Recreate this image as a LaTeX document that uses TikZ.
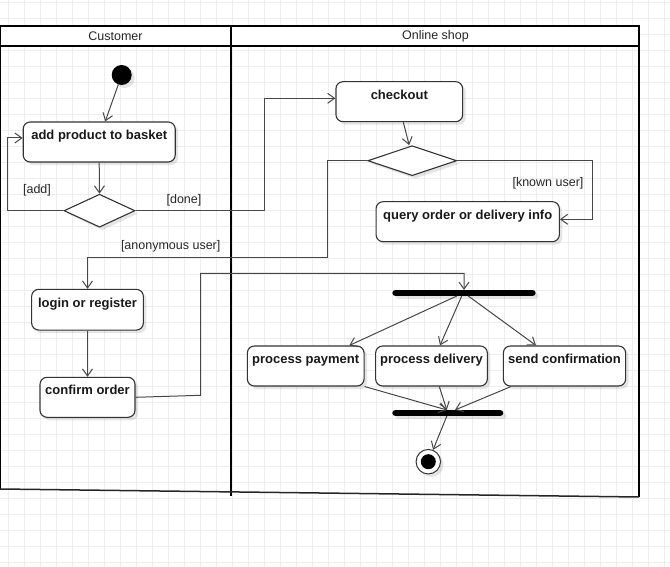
\documentclass[tikz,border=0pt]{standalone}
\usepackage{fontspec}
\setmainfont{Liberation Sans}
\usetikzlibrary{arrows.meta,shapes.geometric,shadows}
\definecolor{gridc}{HTML}{EEEEEE}
\definecolor{ink}{HTML}{333333}
\definecolor{wire}{HTML}{474747}
\begin{document}
\begin{tikzpicture}[x=1pt,y=-1pt,
  soft/.style={drop shadow={shadow xshift=3pt,shadow yshift=-3pt,fill=black,opacity=0.1}},
  action/.style={draw=ink,line width=1.1pt,rounded corners=7pt,fill=white,soft,
    font=\fontsize{13}{15}\selectfont\bfseries,text=black!90,
    minimum height=40pt,inner ysep=8pt,inner xsep=0pt,
    text height=9.5pt,text depth=14.5pt,align=center},
  decision/.style={diamond,draw=ink,line width=1.1pt,fill=white,soft,inner sep=0pt},
  syncbar/.style={rectangle,fill=black,rounded corners=2.8pt,inner sep=0pt,
    minimum height=5.7pt,soft},
  flow/.style={draw=wire,line width=1pt,-{Straight Barb[length=7pt,width=10pt]}},
  guard/.style={font=\fontsize{12.5}{14}\selectfont,text=black!85},
  lane/.style={line width=2.2pt,draw=black},
  lanetitle/.style={font=\fontsize{12.5}{14}\selectfont,text=black!85}]

\useasboundingbox (0,0) rectangle (670,567);

% background grid
\foreach \k in {0,...,41}
  \draw[gridc,line width=1pt] ({8.3+16*\k},0) -- ({8.3+16*\k},567);
\foreach \k in {0,...,35}
  \draw[gridc,line width=1pt] (0,{2.3+16*\k}) -- (670,{2.3+16*\k});

% swimlanes
\draw[lane,fill=white] (0,26) rectangle (231,46);
\draw[lane,fill=white] (231,26) rectangle (639,46);
\draw[lane] (0,46) -- (0,489);
\draw[lane] (231,46) -- (231,496);
\draw[lane] (639,46) -- (639,497);
\draw[line width=1.5pt,black!85] (0,489) -- (639,497);
\node[lanetitle] (laneA) at (115.5,36) {Customer};
\node[lanetitle] (laneB) at (435.5,36) {Online shop};

% customer lane
\node[circle,fill=black,minimum size=20pt,inner sep=0pt,soft] (start) at (121.7,75) {};
\node[action,minimum width=152pt] (add) at (99.2,142) {add product to basket};
\node[decision,minimum width=71pt,minimum height=33pt] (d1) at (99.5,210.7) {};
\node[action,minimum width=111.7pt,minimum height=40.7pt] (login) at (87.5,309.7) {login or register};
\node[action,minimum width=95pt] (confirm) at (87.5,397.3) {confirm order};

% online shop lane
\node[action,minimum width=126.7pt] (checkout) at (399.3,101.7) {checkout};
\node[decision,minimum width=89pt,minimum height=30pt] (d2) at (412.2,160.7) {};
\node[action,minimum width=183.3pt] (query) at (467.7,221.7) {query order or delivery info};
\node[syncbar,minimum width=143.3pt] (fork) at (464,293) {};
\node[action,minimum width=116.7pt] (payment) at (305.7,366) {process payment};
\node[action,minimum width=111.7pt] (delivery) at (431.5,366) {process delivery};
\node[action,minimum width=122.3pt] (sendconf) at (564.5,366) {send confirmation};
\node[syncbar,minimum width=111pt] (join) at (447.8,413) {};
\node[circle,draw=ink,fill=white,line width=1pt,minimum size=24.5pt,inner sep=0pt,soft] (final) at (428.3,461.7) {};
\node[circle,fill=black,minimum size=15pt,inner sep=0pt] (finaldot) at (final) {};

% transitions
\draw[flow] (start) -- ([xshift=6pt]add.north);
\draw[flow] (add.south) -- (d1.north);
\draw[flow] (d1.west) -- ++(-56,0) |- ([yshift=4pt]add.west);
\node[guard] (gadd) at (37,190) {[add]};
\draw[flow] (d1.east) -- ++(128.5,0) |- ([yshift=3.4pt]checkout.west);
\node[guard] (gdone) at (184,200) {[done]};
\draw[flow] ([xshift=4pt]checkout.south) -- ([xshift=-3pt]d2.north);
\draw[flow] (d2.east) -- ++(135.6,0) |- ([yshift=2.4pt]query.east);
\node[guard] (gknown) at (548,183) {[known user]};
\draw[flow] (d2.west) -- ++(-39.4,0) -- ++(0,97) -| (login.north);
\node[guard] (ganon) at (170.7,246.7) {[anonymous user]};
\draw[flow] (login.south) -- (confirm.north);
\draw[flow] (confirm.east) -- ++(65,-2) coordinate (bend) -- (bend |- 0,273.3) -| (fork.north);
\draw[flow] ([xshift=-7.3pt]fork.south) -- ([xshift=43.6pt]payment.north);
\draw[flow] ([xshift=-2.3pt]fork.south) -- ([xshift=8.5pt]delivery.north);
\draw[flow] ([xshift=4.3pt]fork.south) -- ([xshift=-28.5pt]sendconf.north);
\draw[flow] (payment.south east) -- ([xshift=-1pt]join.north);
\draw[flow] ([xshift=7.8pt]delivery.south) -- ([xshift=-1pt]join.north);
\draw[flow] ([xshift=-53.5pt]sendconf.south) -- ([xshift=7.2pt]join.north);
\draw[flow] ([xshift=-1pt]join.south) -- (final);
\end{tikzpicture}
\end{document}
